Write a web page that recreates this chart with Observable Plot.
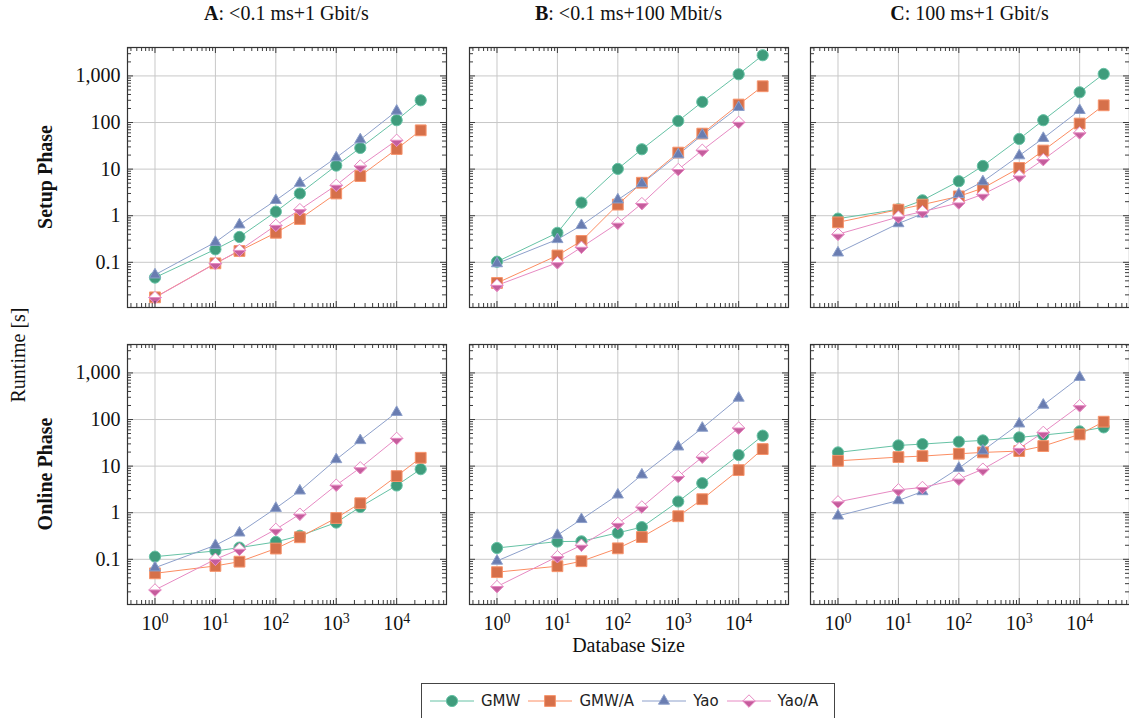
<!DOCTYPE html>
<html><head><meta charset="utf-8">
<script src="https://cdn.jsdelivr.net/npm/d3@7"></script>
<script src="https://cdn.jsdelivr.net/npm/@observablehq/plot@0.6"></script>
<style>
body{margin:0;background:#fff;}
#root{position:relative;width:1129px;height:718px;overflow:hidden;font-family:"Liberation Serif",serif;color:#111;}
.abs{position:absolute;white-space:nowrap;font-family:"Liberation Serif",serif;}
.title{font-size:20px;text-align:center;}
.rot{transform:translate(-50%,-50%) rotate(-90deg);font-size:20px;}
#legend{position:absolute;left:421px;top:683px;width:414px;height:36px;border:1px solid #444;box-sizing:border-box;display:flex;align-items:center;font-family:"DejaVu Sans",sans-serif;font-size:15px;color:#222;}
#legend .item{display:flex;align-items:center;}
#legend svg{display:block;}
</style></head><body><div id="root"></div>
<script>
// ---------- data ----------
const sizes = [1, 10, 25, 100, 250, 1000, 2500, 10000, 25000];
const seriesNames = ["GMW", "GMW/A", "Yao", "Yao/A"];
const columnKeys = ["A", "B", "C"];
const columnTitles = ["<0.1 ms+1 Gbit/s", "<0.1 ms+100 Mbit/s", "100 ms+1 Gbit/s"];
const rowTitles = ["Setup Phase", "Online Phase"];
const xTickValues = [1, 10, 100, 1000, 10000];
const yTickValues = [0.1, 1, 10, 100, 1000];

const setupA_GMW  = [0.047, 0.19, 0.35, 1.22, 3.0, 11.9, 28.5, 112, 300];
const setupA_GMWA = [0.0177, 0.095, 0.175, 0.43, 0.85, 3.0, 7.1, 27, 68];
const setupA_Yao  = [0.054, 0.27, 0.64, 2.14, 5.0, 17.7, 43, 177];
const setupA_YaoA = [0.0175, 0.094, 0.18, 0.62, 1.35, 4.5, 11.7, 41.6];

const setupB_GMW  = [0.103, 0.43, 1.91, 10.1, 26.7, 108, 277, 1086, 2780];
const setupB_GMWA = [0.036, 0.14, 0.287, 1.73, 5.1, 22.6, 57.8, 243, 600];
const setupB_Yao  = [0.094, 0.31, 0.62, 2.2, 4.9, 20.5, 54, 212];
const setupB_YaoA = [0.032, 0.098, 0.21, 0.69, 1.82, 9.8, 25.4, 101];

const setupC_GMW  = [0.865, 1.37, 2.14, 5.5, 11.7, 44.4, 112, 446, 1104];
const setupC_GMWA = [0.72, 1.35, 1.73, 2.6, 3.9, 10.6, 25, 95, 234];
const setupC_Yao  = [0.16, 0.68, 1.1, 2.88, 5.4, 19.5, 46, 183];
const setupC_YaoA = [0.40, 0.94, 1.22, 1.88, 2.88, 7.1, 16, 60];

const onlineA_GMW  = [0.114, 0.151, 0.178, 0.236, 0.32, 0.615, 1.33, 3.84, 8.6];
const onlineA_GMWA = [0.050, 0.072, 0.089, 0.17, 0.297, 0.77, 1.6, 6.1, 15.1];
const onlineA_Yao  = [0.066, 0.2, 0.37, 1.25, 2.95, 13.9, 35.6, 143];
const onlineA_YaoA = [0.022, 0.1, 0.164, 0.44, 0.93, 3.9, 9.2, 39.4];

const onlineB_GMW  = [0.175, 0.24, 0.243, 0.37, 0.49, 1.74, 4.3, 17.3, 45];
const onlineB_GMWA = [0.053, 0.071, 0.091, 0.172, 0.30, 0.84, 1.95, 8.2, 23.2];
const onlineB_Yao  = [0.092, 0.33, 0.72, 2.42, 6.5, 26, 65.6, 290];
const onlineB_YaoA = [0.026, 0.114, 0.2, 0.59, 1.33, 6.0, 15.6, 65.6];

const onlineC_GMW  = [19.7, 27.8, 29.7, 33.4, 35.6, 41.3, 46.4, 55.7, 67.9];
const onlineC_GMWA = [13, 15.6, 16.4, 18.4, 19.7, 21, 26.9, 48, 89.8];
const onlineC_Yao  = [0.855, 1.83, 2.85, 9.05, 21.4, 81, 205, 807];
const onlineC_YaoA = [1.71, 3.1, 3.48, 5.25, 8.6, 24, 53, 198];

const panelData = [
  [[setupA_GMW, setupA_GMWA, setupA_Yao, setupA_YaoA],
   [setupB_GMW, setupB_GMWA, setupB_Yao, setupB_YaoA],
   [setupC_GMW, setupC_GMWA, setupC_Yao, setupC_YaoA]],
  [[onlineA_GMW, onlineA_GMWA, onlineA_Yao, onlineA_YaoA],
   [onlineB_GMW, onlineB_GMWA, onlineB_Yao, onlineB_YaoA],
   [onlineC_GMW, onlineC_GMWA, onlineC_Yao, onlineC_YaoA]]
];

// ---------- styles ----------
const lineColor = {"GMW": "#66c2a5", "GMW/A": "#fc8d62", "Yao": "#8da0cb", "Yao/A": "#e78ac3"};
const markFill  = {"GMW": "#3f9c7c", "GMW/A": "#d6704a", "Yao": "#6a7db1", "Yao/A": "#ffffff"};
const markStroke= {"GMW": "#66c2a5", "GMW/A": "#f7946c", "Yao": "#8da0cb", "Yao/A": "#e78ac3"};
const halfFill = "#c45d9c";

const symCircle = {draw(c, s){ const r = Math.sqrt(s/Math.PI); c.moveTo(r,0); c.arc(0,0,r,0,2*Math.PI); c.closePath(); }};
const symSquare = {draw(c, s){ const r = Math.sqrt(s/Math.PI); c.rect(-r,-r,2*r,2*r); }};
const symTri = {draw(c, s){ const r = Math.sqrt(s/Math.PI); const w = r*Math.sqrt(3)/2; c.moveTo(0,-r); c.lineTo(w,r/2); c.lineTo(-w,r/2); c.closePath(); }};
const symDiamond = {draw(c, s){ const r = Math.sqrt(s/Math.PI); c.moveTo(0,-r); c.lineTo(r,0); c.lineTo(0,r); c.lineTo(-r,0); c.closePath(); }};
const symHalfDiamond = {draw(c, s){ const r = Math.sqrt(s/Math.PI); c.moveTo(-r,0); c.lineTo(r,0); c.lineTo(0,r); c.closePath(); }};
const markSym = {"GMW": symCircle, "GMW/A": symSquare, "Yao": symTri, "Yao/A": symDiamond};
const markR = {"GMW": 5.6, "GMW/A": 5.4, "Yao": 6.4, "Yao/A": 6.2};

const W = 319, H = 260;
const ML = 70, MR = 12, MT = 12, MB = 45;
const panelLeft = [127, 469, 810];
const panelTop = [47, 344];
const xDomain = [Math.pow(10, -0.455), Math.pow(10, 4.825)];
const yDomain = [Math.pow(10, -1.97), Math.pow(10, 3.61)];

function minorTicks(lo, hi) {
  const out = [];
  const e0 = Math.floor(Math.log10(lo)), e1 = Math.ceil(Math.log10(hi));
  for (let e = e0; e <= e1; e++) for (let m = 2; m <= 9; m++) {
    const v = m * Math.pow(10, e);
    if (v > lo && v < hi) out.push(v);
  }
  return out;
}
const xMinor = minorTicks(xDomain[0], xDomain[1]);
const yMinor = minorTicks(yDomain[0], yDomain[1]);
const tickColor = "#3c3c3c";
const yFmt = d => d >= 1 ? d3.format(",")(d) : String(d);

const root = document.getElementById("root");

function makePanel(row, col) {
  const rows = [];
  seriesNames.forEach((s, i) => {
    panelData[row][col][i].forEach((v, j) => rows.push({series: s, size: sizes[j], time: v}));
  });
  const marks = [
    Plot.ruleX(xTickValues, {stroke: "#c8c8c8", strokeWidth: 1}),
    Plot.ruleY(yTickValues, {stroke: "#c8c8c8", strokeWidth: 1}),
  ];
  seriesNames.forEach(s => {
    marks.push(Plot.line(rows.filter(d => d.series === s), {x: "size", y: "time", stroke: lineColor[s], strokeWidth: 1}));
  });
  seriesNames.forEach(s => {
    const sub = rows.filter(d => d.series === s);
    marks.push(Plot.dot(sub, {x: "size", y: "time", symbol: markSym[s], r: markR[s], fill: markFill[s], stroke: markStroke[s], strokeWidth: 1}));
    if (s === "Yao/A") marks.push(Plot.dot(sub, {x: "size", y: "time", symbol: symHalfDiamond, r: markR[s], fill: halfFill, stroke: markStroke[s], strokeWidth: 1}));
  });
  const tk = {stroke: tickColor, strokeWidth: 1};
  marks.push(
    Plot.ruleX(xTickValues, {...tk, insetTop: H - 6}),
    Plot.ruleX(xTickValues, {...tk, insetBottom: H - 6}),
    Plot.ruleX(xMinor, {...tk, insetTop: H - 4}),
    Plot.ruleX(xMinor, {...tk, insetBottom: H - 4}),
    Plot.ruleY(yTickValues, {...tk, insetRight: W - 6}),
    Plot.ruleY(yTickValues, {...tk, insetLeft: W - 6}),
    Plot.ruleY(yMinor, {...tk, insetRight: W - 4}),
    Plot.ruleY(yMinor, {...tk, insetLeft: W - 4}),
    Plot.frame({stroke: "#333", strokeWidth: 1.2})
  );
  if (col === 0) marks.push(Plot.axisY(yTickValues, {anchor: "left", label: null, tickSize: 0, tickPadding: 7, tickFormat: yFmt, fontSize: 20, fill: "#111"}));
  if (row === 1) marks.push(Plot.axisX(xTickValues, {anchor: "bottom", label: null, tickSize: 0, tickPadding: 11, tickFormat: d => "10^" + Math.round(Math.log10(d)), fontSize: 20, fill: "#111"}));
  const svg = Plot.plot({
    width: ML + W + MR, height: MT + H + MB,
    marginLeft: ML, marginRight: MR, marginTop: MT, marginBottom: MB,
    x: {type: "log", domain: xDomain, axis: null, label: null},
    y: {type: "log", domain: yDomain, axis: null, label: null},
    style: {fontFamily: "Liberation Serif, serif", fontSize: "20px", background: "none", overflow: "visible"},
    marks
  });
  svg.querySelectorAll('g[aria-label="x-axis tick label"] text').forEach(t => {
    const txt = t.textContent;
    if (!txt.includes("^")) return;
    const [b, e] = txt.split("^");
    t.textContent = "";
    const ns = "http://www.w3.org/2000/svg";
    const t1 = document.createElementNS(ns, "tspan"); t1.textContent = b;
    const t2 = document.createElementNS(ns, "tspan"); t2.textContent = e;
    t2.setAttribute("dy", "-0.45em"); t2.setAttribute("font-size", "14");
    t.append(t1, t2);
  });
  svg.style.position = "absolute";
  svg.style.left = (panelLeft[col] - ML) + "px";
  svg.style.top = (panelTop[row] - MT) + "px";
  svg.style.maxWidth = "none";
  root.appendChild(svg);
}
for (let r = 0; r < 2; r++) for (let c = 0; c < 3; c++) makePanel(r, c);

// ---------- text ----------
function addDiv(cls, css) {
  const d = document.createElement("div");
  d.className = "abs " + cls;
  Object.assign(d.style, css);
  root.appendChild(d);
  return d;
}
columnKeys.forEach((k, i) => {
  addDiv("title", {left: panelLeft[i] + "px", width: W + "px", top: "2px"}).append(
    Object.assign(document.createElement("b"), {textContent: k}),
    document.createTextNode(": " + columnTitles[i])
  );
});
rowTitles.forEach((t, i) => {
  addDiv("rot", {left: "45px", top: (panelTop[i] + H / 2) + "px", fontWeight: "bold"}).textContent = t;
});
addDiv("rot", {left: "18px", top: "355px"}).textContent = "Runtime [s]";
addDiv("", {left: (panelLeft[1] + W / 2) + "px", top: "634px", transform: "translateX(-50%)", fontSize: "20px"}).textContent = "Database Size";

// ---------- legend ----------
const legend = document.createElement("div");
legend.id = "legend";
root.appendChild(legend);
seriesNames.forEach((s, i) => {
  const item = document.createElement("div");
  item.className = "item";
  item.style.marginLeft = "8px";
  const sv = d3.create("svg").attr("width", 44).attr("height", 20);
  sv.append("line").attr("x1", 0).attr("x2", 44).attr("y1", 10).attr("y2", 10).attr("stroke", lineColor[s]).attr("stroke-width", 1);
  const sym = markSym[s], rr = markR[s];
  sv.append("path").attr("transform", "translate(22,10)").attr("d", d3.symbol(sym, rr * rr * Math.PI)()).attr("fill", markFill[s]).attr("stroke", markStroke[s]);
  if (s === "Yao/A") sv.append("path").attr("transform", "translate(22,10)").attr("d", d3.symbol(symHalfDiamond, rr * rr * Math.PI)()).attr("fill", halfFill).attr("stroke", markStroke[s]);
  item.appendChild(sv.node());
  const lab = document.createElement("span");
  lab.textContent = s;
  lab.style.marginLeft = "7px";
  item.appendChild(lab);
  legend.appendChild(item);
});
</script></body></html>
